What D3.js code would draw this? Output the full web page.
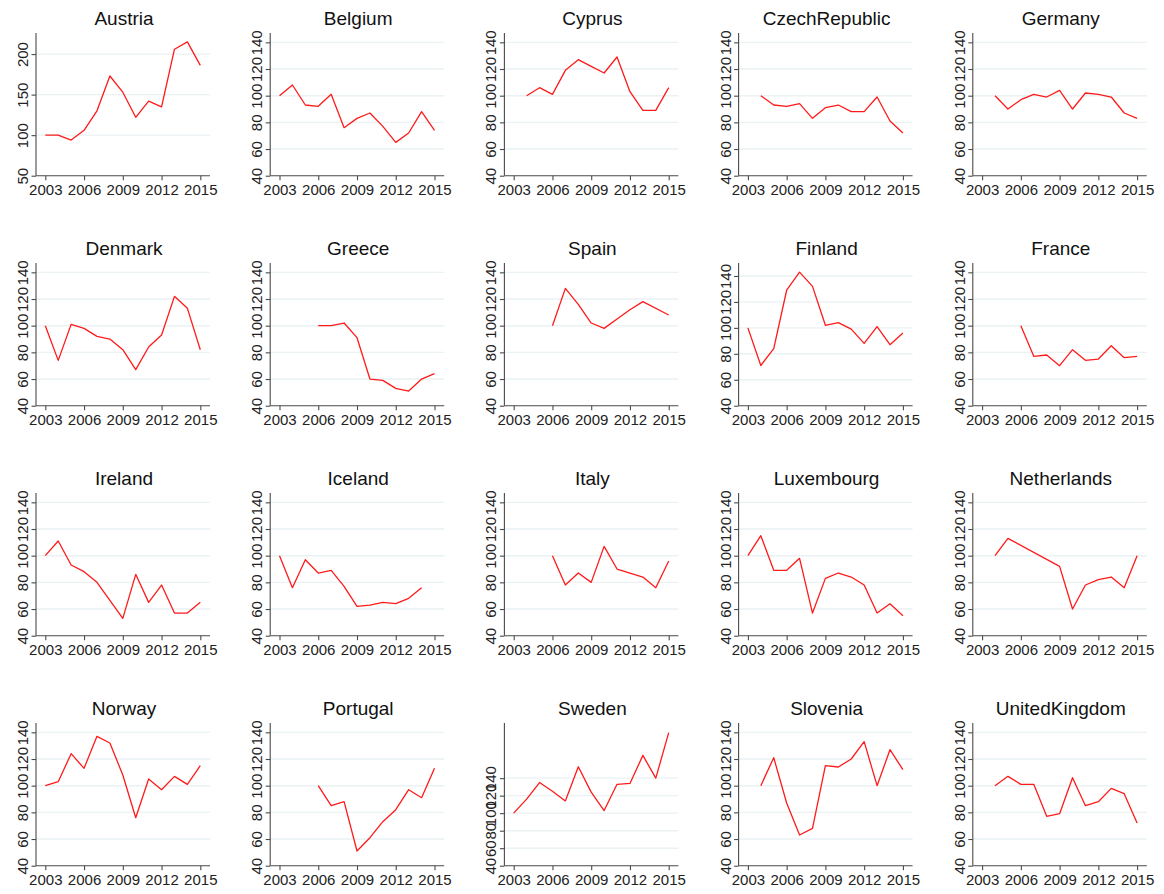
<!DOCTYPE html>
<html><head><meta charset="utf-8">
<script src="https://cdn.jsdelivr.net/npm/d3@7"></script>
<style>
body{margin:0;background:#fff}
text{font-family:"Liberation Sans",Arial,Helvetica,sans-serif}
</style>
</head><body>
<svg id="chart" width="1164" height="894"></svg>
<script>
// ---- data ----
const years = [2003,2004,2005,2006,2007,2008,2009,2010,2011,2012,2013,2014,2015];
const Austria       = [100,100,94,106,130,173,153,122,142,135,206,215,186];
const Belgium       = [100,108,93,92,101,76,83,87,77,65,72,88,74];
const Cyprus        = [null,100,106,101,119,127,122,117,129,103,89,89,106];
const CzechRepublic = [null,100,93,92,94,83,91,93,88,88,99,81,72];
const Germany       = [null,100,90,97,101,99,104,90,102,101,99,87,83];
const Denmark       = [100,74,101,98,92,90,82,67,84,93,122,113,82];
const Greece        = [null,null,null,100,100,102,91,60,59,53,51,60,64];
const Spain         = [null,null,null,100,128,116,102,98,105,112,118,null,108];
const Finland       = [100,71,84,129,143,132,102,104,99,88,101,87,96];
const France        = [null,null,null,100,77,78,70,82,74,75,85,76,77];
const Ireland       = [100,111,93,88,80,null,53,86,65,78,57,57,65];
const Iceland       = [100,76,97,87,89,77,62,63,65,64,68,76,null];
const Italy         = [null,null,null,100,78,87,80,107,90,87,84,76,96];
const Luxembourg    = [100,115,89,89,98,57,83,87,84,78,57,64,55];
const Netherlands   = [null,100,113,null,null,null,92,60,78,82,84,76,100];
const Norway        = [100,103,124,113,137,132,108,76,105,97,107,101,115];
const Portugal      = [null,null,null,100,85,88,51,61,73,82,97,91,113];
const Sweden        = [100,116,135,125,114,153,124,103,133,134,166,140,192];
const Slovenia      = [null,100,121,87,63,68,115,114,120,133,100,127,112];
const UnitedKingdom = [null,100,107,101,101,77,79,106,85,88,98,94,72];

const countries = ["Austria","Belgium","Cyprus","CzechRepublic","Germany",
  "Denmark","Greece","Spain","Finland","France",
  "Ireland","Iceland","Italy","Luxembourg","Netherlands",
  "Norway","Portugal","Sweden","Slovenia","UnitedKingdom"];
const seriesValues = [Austria,Belgium,Cyprus,CzechRepublic,Germany,
  Denmark,Greece,Spain,Finland,France,
  Ireland,Iceland,Italy,Luxembourg,Netherlands,
  Norway,Portugal,Sweden,Slovenia,UnitedKingdom];

const xTicks = [2003,2006,2009,2012,2015];
const yTicksStd = [40,60,80,100,120,140];
const yTicksAustria = [50,100,150,200];
const yDomainStd = [40,147];
const yDomainAustria = [50,226];
const yDomainFinland = [40,150];
const yDomainSweden = [40,203];

// ---- layout ----
const svg = d3.select("#chart");
const plotW = 174, plotH = 142.7;
const colX = c => 36 + 234.2*c;
const rowY = r => 33 + 230*r;
const x = d3.scaleLinear().domain([2002.28, 2015.75]).range([0, plotW]);

countries.forEach((name, i) => {
  const c = i % 5, r = Math.floor(i / 5);
  const g = svg.append("g").attr("transform", `translate(${colX(c)},${rowY(r)})`);
  let dom = yDomainStd, ticks = yTicksStd;
  if (name === "Austria") { dom = yDomainAustria; ticks = yTicksAustria; }
  if (name === "Finland") dom = yDomainFinland;
  if (name === "Sweden") dom = yDomainSweden;
  const y = d3.scaleLinear().domain(dom).range([plotH, 0]);

  // gridlines
  g.append("g").selectAll("line").data(ticks.filter(t => t !== dom[0])).join("line")
    .attr("x1", 0).attr("x2", plotW)
    .attr("y1", d => y(d)).attr("y2", d => y(d))
    .attr("stroke", "#eaf2f3").attr("stroke-width", 1.4);

  // title
  g.append("text").attr("x", plotW/2 + 1).attr("y", -8)
    .attr("text-anchor", "middle").attr("font-size", 19).attr("fill", "#111")
    .text(name);

  // x axis
  const xa = g.append("g").attr("transform", `translate(0,${plotH})`)
    .call(d3.axisBottom(x).tickValues(xTicks).tickFormat(d3.format("d")).tickSize(4.5).tickPadding(4));
  xa.select(".domain").attr("stroke", "#4a4a4a").attr("stroke-width", 1.1)
    .attr("d", `M0,0H${plotW}`);
  xa.selectAll(".tick line").attr("stroke", "#4a4a4a").attr("stroke-width", 1.1);
  xa.selectAll(".tick text").attr("font-size", 15).attr("fill", "#222")
    .attr("font-family", '"Liberation Sans",Arial,sans-serif');

  // y axis
  const ya = g.append("g")
    .call(d3.axisLeft(y).tickValues(ticks).tickFormat(d3.format("d")).tickSize(4.5).tickPadding(0));
  ya.select(".domain").attr("stroke", "#4a4a4a").attr("stroke-width", 1.1)
    .attr("d", `M0,${plotH}V0`);
  ya.selectAll(".tick line").attr("stroke", "#4a4a4a").attr("stroke-width", 1.1);
  ya.selectAll(".tick text")
    .attr("font-size", 15).attr("fill", "#222")
    .attr("font-family", '"Liberation Sans",Arial,sans-serif')
    .attr("x", null).attr("dy", null)
    .attr("text-anchor", "middle")
    .attr("transform", "translate(-8,0) rotate(-90)");

  // series line
  const vals = seriesValues[i];
  const pts = years.map((yr, k) => ({yr, v: vals[k]})).filter(d => d.v !== null);
  g.append("path").datum(pts)
    .attr("fill", "none").attr("stroke", "#ff1a1a").attr("stroke-width", 1.3)
    .attr("stroke-linejoin", "round")
    .attr("d", d3.line().x(d => x(d.yr)).y(d => y(d.v)));
});
</script>
</body></html>
